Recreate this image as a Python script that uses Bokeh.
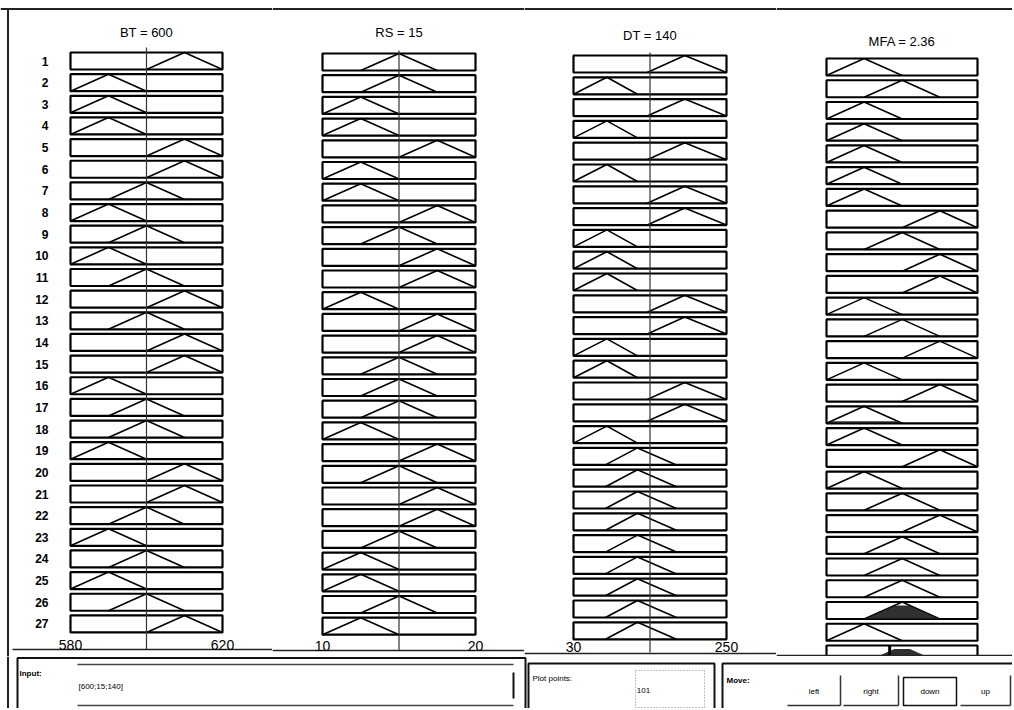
import numpy as np
from bokeh.plotting import figure
from bokeh.layouts import row, column
from bokeh.models import Range1d
from bokeh.embed import file_html
from bokeh.resources import INLINE
from bokeh.core.properties import value

# ---------------- data ----------------
rule_numbers = list(range(1, 28))

bt_name, rs_name, dt_name, mfa_name = "BT", "RS", "DT", "MFA"
bt_range = [580, 620]
rs_range = [10, 20]
dt_range = [30, 250]
mfa_range = [1.0, 4.25]

# triangular membership functions [a, peak, c]: low, mid, high
bt_mfs = [[580, 590, 600], [590, 600, 610], [600, 610, 620]]
rs_mfs = [[10, 12.5, 15], [12.5, 15, 17.5], [15, 17.5, 20]]
dt_mfs = [[30, 78, 122], [76, 122, 178], [136, 190, 250]]
mfa_mfs = [[1.0, 1.81, 2.63], [1.81, 2.63, 3.44], [2.63, 3.44, 4.25]]

# rule antecedents / consequents (0 = low, 1 = mid, 2 = high)
bt_rule = [2, 0, 0, 0, 2, 2, 1, 0, 1, 0, 1, 2, 1, 2, 2, 0, 1, 1, 0, 2, 2, 1, 0, 1, 0, 1, 2]
rs_rule = [1, 1, 0, 0, 2, 0, 0, 2, 1, 2, 2, 0, 2, 2, 1, 1, 1, 0, 2, 1, 2, 2, 1, 0, 0, 1, 0]
dt_rule = [2, 0, 2, 0, 2, 0, 2, 2, 0, 0, 0, 2, 2, 0, 0, 2, 2, 0, 1, 1, 1, 1, 1, 1, 1, 1, 1]
mfa_rule = [0, 1, 0, 0, 0, 0, 0, 2, 1, 2, 2, 0, 1, 2, 0, 2, 0, 0, 2, 0, 1, 2, 1, 1, 1, 1, 0]

bt_input = 600
rs_input = 15
dt_input = 140
mfa_output = 2.36

fired_rules = [17, 26]
fired_strength = [0.12, 0.8]

plot_points = 101
input_vector = "[600;15;140]"
move_buttons = ["left", "right", "down", "up"]

# ---------------- layout constants (page pixels) ----------------
PAGE_TOP, PAGE_SEP, PAGE_BOT = 0, 656, 708
BOX_H = 17
FONT = value("Liberation Sans")


def tri(x, abc):
    a, b, c = abc
    return np.interp(x, [a, b, c], [0.0, 1.0, 0.0], left=0.0, right=0.0)


def column_fig(sL, sR, bL, bR, rng, top1, pitch):
    lo, hi = rng
    k = (hi - lo) / (bR - bL)
    c1 = top1 + BOX_H / 2

    def py(page):
        return 1 + (page - c1) / pitch

    def px(page):
        return lo + (page - bL) * k

    p = figure(width=sR - sL, height=PAGE_SEP - PAGE_TOP,
               x_range=Range1d(px(sL), px(sR)),
               y_range=Range1d(py(PAGE_SEP), py(PAGE_TOP)),
               output_backend="svg", toolbar_location=None, title=None,
               x_axis_location=None, y_axis_location=None, min_border=0)
    p.grid.visible = False
    p.outline_line_color = None
    p.background_fill_color = "white"
    p.border_fill_color = "white"
    hb = (BOX_H / 2) / pitch
    # top frame line of the window
    p.segment(x0=[px(sL)], x1=[px(sR)], y0=[py(8.5)], y1=[py(8.5)], line_color="#222", line_width=2)
    return p, px, py, hb


def draw_rows(p, rng, mfs, rule, hb):
    lo, hi = rng
    n = len(rule)
    rows = np.arange(1, n + 1)
    p.quad(left=[lo] * n, right=[hi] * n, top=list(rows - hb), bottom=list(rows + hb),
           fill_color="white", line_color="black", line_width=2.2)
    xs = [mfs[m] for m in rule]
    ys = [[r + hb, r - hb, r + hb] for r in rows]
    p.multi_line(xs=xs, ys=ys, line_color="black", line_width=1.6)


def title_and_ticks(p, rng, text, py, ty, label_mid, ticks=True):
    lo, hi = rng
    p.text(x=[(lo + hi) / 2], y=[py(ty)], text=[text], text_font=FONT,
           text_font_size="13px", text_align="center", text_baseline="middle",
           text_color="black")
    if ticks:
        p.text(x=[lo, hi], y=[py(label_mid)] * 2, text=[f"{lo:g}", f"{hi:g}"],
               text_font=FONT, text_font_size="14px", text_align="center",
               text_baseline="middle", text_color="black")


# ---------- BT ----------
pA, pxA, pyA, hbA = column_fig(0, 272, 70, 222, bt_range, 52, 21.65)
pA.segment(x0=[pxA(7.5)], x1=[pxA(7.5)], y0=[pyA(8)], y1=[pyA(656)], line_color="#222", line_width=2)
pA.segment(x0=[pxA(12)], x1=[pxA(272)], y0=[pyA(649)], y1=[pyA(649)], line_color="#222", line_width=1.5)
draw_rows(pA, bt_range, bt_mfs, bt_rule, hbA)
pA.segment(x0=[bt_input], x1=[bt_input], y0=[pyA(47)], y1=[pyA(649)], line_color="#333", line_width=1.2)
title_and_ticks(pA, bt_range, f"{bt_name} = {bt_input}", pyA, 31.5, 644)
pA.text(x=[pxA(48)] * len(rule_numbers), y=rule_numbers, text=[str(r) for r in rule_numbers],
        text_font=FONT, text_font_size="12px", text_font_style="bold",
        text_align="right", text_baseline="middle", text_color="black")

# ---------- RS ----------
pB, pxB, pyB, hbB = column_fig(272, 524, 322, 475, rs_range, 53, 21.7)
pB.segment(x0=[pxB(272)], x1=[pxB(524)], y0=[pyB(650)], y1=[pyB(650)], line_color="#222", line_width=1.5)
draw_rows(pB, rs_range, rs_mfs, rs_rule, hbB)
pB.segment(x0=[rs_input], x1=[rs_input], y0=[pyB(50)], y1=[pyB(650)], line_color="#333", line_width=1.2)
title_and_ticks(pB, rs_range, f"{rs_name} = {rs_input}", pyB, 32, 645)

# ---------- DT ----------
pC, pxC, pyC, hbC = column_fig(524, 776, 573, 726, dt_range, 55, 21.8)
pC.segment(x0=[pxC(524)], x1=[pxC(776)], y0=[pyC(653)], y1=[pyC(653)], line_color="#222", line_width=1.5)
draw_rows(pC, dt_range, dt_mfs, dt_rule, hbC)
pC.segment(x0=[dt_input], x1=[dt_input], y0=[pyC(52)], y1=[pyC(652)], line_color="#333", line_width=1.2)
title_and_ticks(pC, dt_range, f"{dt_name} = {dt_input}", pyC, 34.5, 646)

# ---------- MFA (output) ----------
pD, pxD, pyD, hbD = column_fig(776, 1012, 826, 977, mfa_range, 58, 21.74)
n_rules = len(mfa_rule)
draw_rows(pD, mfa_range, mfa_mfs, mfa_rule, hbD)
grid = np.linspace(mfa_range[0], mfa_range[1], plot_points)
agg = np.zeros_like(grid)
for r, s in zip(fired_rules, fired_strength):
    mu = np.minimum(tri(grid, mfa_mfs[mfa_rule[r - 1]]), s)
    agg = np.maximum(agg, mu)
    pD.varea(x=grid, y1=np.full_like(grid, r + hbD), y2=r + hbD - 2 * hbD * mu,
             fill_color="#1a1a1a", fill_alpha=0.9)
agg_row = n_rules + 1
pD.quad(left=[mfa_range[0]], right=[mfa_range[1]], top=[agg_row - hbD], bottom=[agg_row + hbD],
        fill_color="white", line_color="black", line_width=2.2)
pD.varea(x=grid, y1=np.full_like(grid, agg_row + hbD), y2=agg_row + hbD - 2 * hbD * agg,
         fill_color="#1a1a1a", fill_alpha=0.9)
pD.segment(x0=[mfa_output], x1=[mfa_output], y0=[agg_row - hbD], y1=[agg_row + hbD],
           line_color="black", line_width=3)
pD.segment(x0=[pxD(776)], x1=[pxD(1012)], y0=[pyD(655)], y1=[pyD(655)], line_color="#222", line_width=1.5)
title_and_ticks(pD, mfa_range, f"{mfa_name} = {mfa_output}", pyD, 41, 0, ticks=False)

# ---------- bottom control panel ----------
b = figure(width=1012, height=PAGE_BOT - PAGE_SEP, x_range=Range1d(0, 1012),
           y_range=Range1d(PAGE_BOT, PAGE_SEP), output_backend="svg",
           toolbar_location=None, title=None, x_axis_location=None,
           y_axis_location=None, min_border=0)
b.grid.visible = False
b.outline_line_color = None
b.segment(x0=[7.5], x1=[7.5], y0=[656], y1=[708], line_color="#222", line_width=2)
# panels
b.quad(left=[17, 528, 722], right=[525, 714, 1030], top=[657.5, 663, 663], bottom=[712, 712, 712],
       fill_color=None, line_color="#111", line_width=2)
# input edit field
b.segment(x0=[77, 77], x1=[513, 513], y0=[664, 705], y1=[664, 705], line_color="#444", line_width=1.5)
b.segment(x0=[513], x1=[513], y0=[672], y1=[698], line_color="#111", line_width=2)
b.text(x=[19], y=[673], text=["Input:"], text_font=FONT, text_font_size="8px",
       text_font_style="bold", text_baseline="middle", text_color="black")
b.text(x=[78], y=[686], text=[input_vector], text_font=FONT, text_font_size="8px",
       text_baseline="middle", text_color="black")
# plot points
b.quad(left=[635], right=[704], top=[670], bottom=[707], fill_color=None,
       line_color="#888", line_width=1, line_dash="1 2")
b.text(x=[532], y=[678], text=["Plot points:"], text_font=FONT, text_font_size="8px",
       text_baseline="middle", text_color="black")
b.text(x=[643], y=[690], text=[str(plot_points)], text_font=FONT, text_font_size="8px",
       text_baseline="middle", text_align="center", text_color="black")
# move buttons
b.text(x=[726], y=[680], text=["Move:"], text_font=FONT, text_font_size="8px",
       text_font_style="bold", text_baseline="middle", text_color="black")
btn_left = [787, 843, 903, 960]
btn_right = [840, 898, 956, 1010]
for name, l, r in zip(move_buttons, btn_left, btn_right):
    if name == "down":
        b.quad(left=[l], right=[r], top=[677], bottom=[705], fill_color=None,
               line_color="#111", line_width=1.5)
    else:
        b.segment(x0=[l, r], x1=[r, r], y0=[705, 675], y1=[705, 705], line_color="#333", line_width=1.5)
    b.text(x=[(l + r) / 2], y=[691], text=[name], text_font=FONT, text_font_size="8px",
           text_baseline="middle", text_align="center", text_color="black")

layout = column(row(pA, pB, pC, pD), b)
open("out.html", "w").write(file_html(layout, INLINE))
